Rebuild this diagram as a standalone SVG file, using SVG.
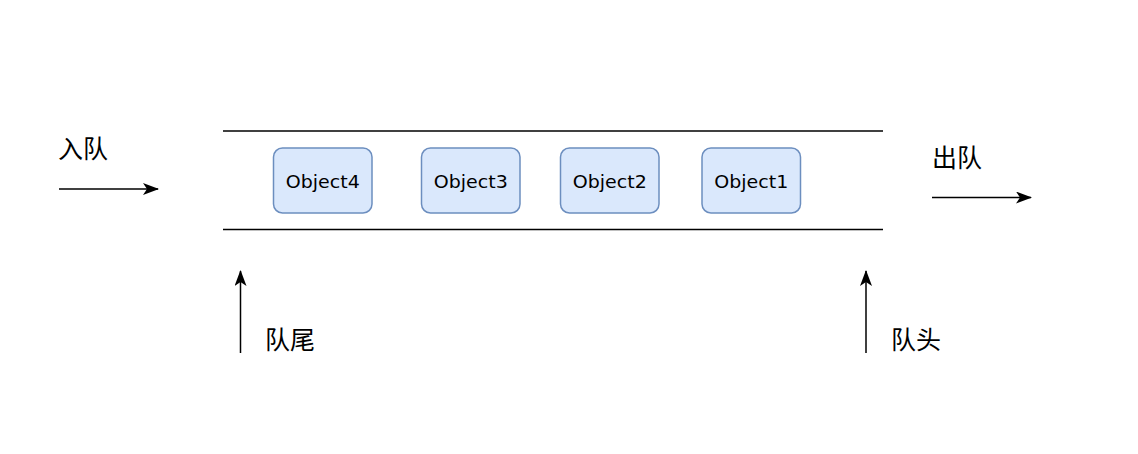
<svg xmlns="http://www.w3.org/2000/svg" width="1138" height="454" viewBox="0 0 1138 454">
  <style>
    .box { fill: #dae8fc; stroke: #6c8ebf; stroke-width: 1.5; }
    .obj { font-family: "DejaVu Sans", "Liberation Sans", sans-serif; font-size: 18px; fill: #000; text-anchor: middle; }
    .cn { font-family: "Noto Sans CJK SC", "Liberation Sans", sans-serif; font-size: 25px; fill: #000; }
    .line { stroke: #000; stroke-width: 1.5; fill: none; }
    .arr { stroke: #000; stroke-width: 1.5; fill: none; marker-end: url(#ah); }
  </style>
  <defs>
    <marker id="ah" markerUnits="userSpaceOnUse" viewBox="0 0 16 12" refX="15" refY="6" markerWidth="16" markerHeight="12" orient="auto">
      <path d="M0,0 L16,6 L0,12 L4,6 Z" fill="#000"/>
    </marker>
  </defs>
  <rect width="1138" height="454" fill="#fff"/>
  <g id="queue-walls">
    <line class="line" x1="223" y1="131" x2="883" y2="131"/>
    <line class="line" x1="223" y1="229.5" x2="883" y2="229.5"/>
  </g>
  <g id="object4">
    <rect class="box" x="273.5" y="148" width="98.5" height="65" rx="9"/>
    <text class="obj" x="322.75" y="187.5" textLength="74" lengthAdjust="spacingAndGlyphs">Object4</text>
  </g>
  <g id="object3">
    <rect class="box" x="421.5" y="148" width="98.5" height="65" rx="9"/>
    <text class="obj" x="470.75" y="187.5" textLength="74" lengthAdjust="spacingAndGlyphs">Object3</text>
  </g>
  <g id="object2">
    <rect class="box" x="560.5" y="148" width="98.5" height="65" rx="9"/>
    <text class="obj" x="609.75" y="187.5" textLength="74" lengthAdjust="spacingAndGlyphs">Object2</text>
  </g>
  <g id="object1">
    <rect class="box" x="702" y="148" width="98.5" height="65" rx="9"/>
    <text class="obj" x="751.25" y="187.5" textLength="74" lengthAdjust="spacingAndGlyphs">Object1</text>
  </g>
  <g id="connectors">
    <line class="arr" x1="59" y1="189" x2="158" y2="189"/>
    <line class="arr" x1="932" y1="197.5" x2="1031" y2="197.5"/>
    <line class="arr" x1="240.5" y1="353" x2="240.5" y2="271"/>
    <line class="arr" x1="866" y1="353" x2="866" y2="271"/>
  </g>
  <g id="label-enqueue">
    <text class="cn" x="58" y="158">入队</text>
  </g>
  <g id="label-dequeue">
    <text class="cn" x="932" y="167">出队</text>
  </g>
  <g id="label-tail">
    <text class="cn" x="265" y="349">队尾</text>
  </g>
  <g id="label-head">
    <text class="cn" x="891" y="349">队头</text>
  </g>
</svg>
